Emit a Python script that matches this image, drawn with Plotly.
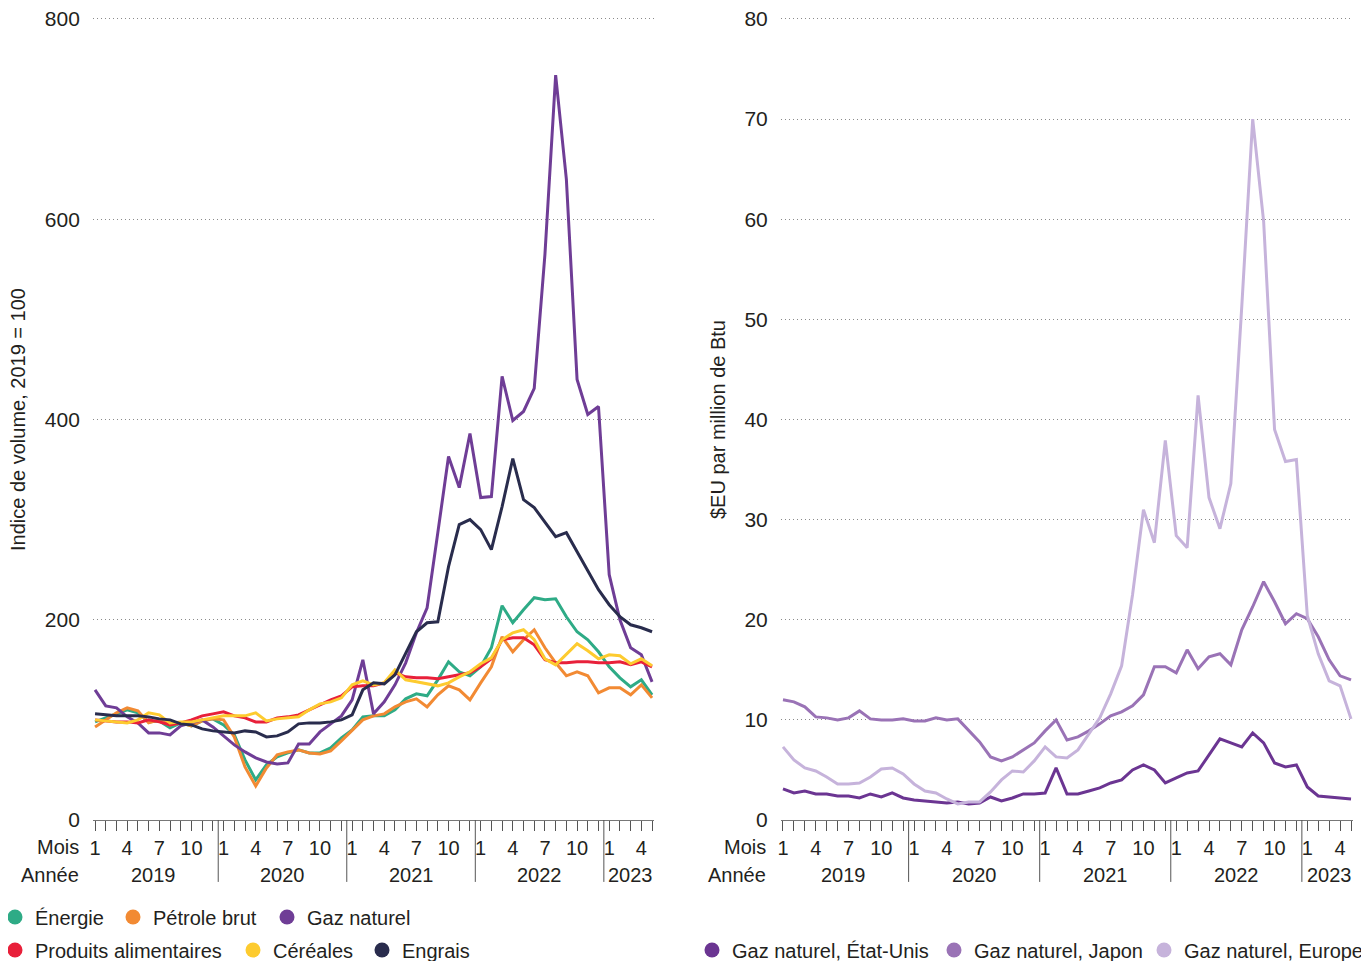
import plotly.graph_objects as go

# ---------------- data ----------------
months = [
    "2019-01", "2019-02", "2019-03", "2019-04", "2019-05", "2019-06", "2019-07", "2019-08", "2019-09", "2019-10", "2019-11", "2019-12",
    "2020-01", "2020-02", "2020-03", "2020-04", "2020-05", "2020-06", "2020-07", "2020-08", "2020-09", "2020-10", "2020-11", "2020-12",
    "2021-01", "2021-02", "2021-03", "2021-04", "2021-05", "2021-06", "2021-07", "2021-08", "2021-09", "2021-10", "2021-11", "2021-12",
    "2022-01", "2022-02", "2022-03", "2022-04", "2022-05", "2022-06", "2022-07", "2022-08", "2022-09", "2022-10", "2022-11", "2022-12",
    "2023-01", "2023-02", "2023-03", "2023-04", "2023-05",
]
labelled_months = {"01": "1", "04": "4", "07": "7", "10": "10"}
years = ["2019", "2020", "2021", "2022", "2023"]

energie = [98, 102, 106, 110, 107, 98, 99, 92, 97, 94, 99, 101,
           95, 85, 60, 40, 55, 63, 67, 70, 67, 67, 72, 82,
           90, 103, 104, 104, 110, 121, 126, 124, 140, 158, 148, 144,
           153, 172, 214, 197, 210, 222, 220, 221, 203, 188, 180, 168,
           153, 142, 133, 140, 125]
petrole = [93, 100, 107, 112, 109, 97, 100, 95, 97, 94, 99, 101,
           100, 83, 53, 34, 52, 65, 68, 70, 67, 66, 69, 79,
           89, 100, 104, 106, 113, 118, 121, 113, 125, 134, 130, 120,
           137, 153, 183, 168, 180, 190, 172, 157, 144, 148, 144, 127,
           132, 132, 125, 135, 122]
gaz = [130, 114, 112, 103, 97, 87, 87, 85, 94, 97, 100, 93,
       84, 75, 68, 62, 58, 56, 57, 76, 76, 88, 96, 104,
       120, 160, 106, 118, 135, 157, 187, 212, 287, 363, 332, 386,
       322, 323, 443, 399, 408, 431, 565, 744, 640, 440, 405, 413,
       245, 200, 172, 165, 138]
alimentaires = [100, 99, 98, 98, 97, 100, 98, 95, 97, 100, 104, 106,
                108, 104, 102, 98, 98, 102, 103, 105, 110, 115, 120, 124,
                133, 134, 134, 137, 147, 143, 142, 142, 141, 143, 145, 147,
                153, 161, 180, 182, 182, 175, 160, 157, 157, 158, 158, 157,
                157, 158, 155, 158, 153]
cereales = [100, 99, 98, 97, 100, 107, 105, 97, 98, 98, 100, 102,
            104, 104, 104, 107, 99, 101, 102, 103, 110, 116, 118, 122,
            135, 139, 135, 137, 150, 140, 138, 136, 134, 137, 143, 148,
            156, 162, 180, 187, 190, 180, 161, 155, 166, 176, 169, 161,
            165, 164, 156, 161, 154]
engrais = [106, 105, 104, 104, 104, 103, 101, 100, 96, 95, 91, 89,
           88, 87, 89, 88, 83, 84, 88, 96, 97, 97, 98, 100,
           105, 130, 137, 136, 145, 167, 188, 197, 198, 253, 295, 300,
           290, 270, 313, 361, 320, 312, 297, 283, 287, 268, 248, 230,
           215, 203, 195, 192, 188]

gaz_us = [3.1, 2.7, 2.9, 2.6, 2.6, 2.4, 2.4, 2.2, 2.6, 2.3, 2.7, 2.2,
          2.0, 1.9, 1.8, 1.7, 1.8, 1.6, 1.7, 2.3, 1.9, 2.2, 2.6, 2.6,
          2.7, 5.2, 2.6, 2.6, 2.9, 3.2, 3.7, 4.0, 5.0, 5.5, 5.0, 3.7,
          4.2, 4.7, 4.9, 6.5, 8.1, 7.7, 7.3, 8.7, 7.7, 5.7, 5.3, 5.5,
          3.3, 2.4, 2.3, 2.2, 2.1]
gaz_japon = [12.0, 11.8, 11.3, 10.3, 10.2, 10.0, 10.2, 10.9, 10.1, 10.0, 10.0, 10.1,
             9.9, 9.9, 10.2, 10.0, 10.1, 9.0, 7.8, 6.3, 5.9, 6.3, 7.0, 7.7,
             8.9, 10.0, 8.0, 8.3, 8.9, 9.6, 10.4, 10.8, 11.4, 12.5, 15.3, 15.3,
             14.7, 17.0, 15.1, 16.3, 16.6, 15.5, 19.0, 21.3, 23.8, 21.8, 19.6, 20.6,
             20.1, 18.3, 16.0, 14.4, 14.0]
gaz_europe = [7.3, 6.0, 5.2, 4.9, 4.3, 3.6, 3.6, 3.7, 4.3, 5.1, 5.2, 4.6,
              3.6, 2.9, 2.7, 2.1, 1.6, 1.8, 1.8, 2.8, 4.0, 4.9, 4.8, 5.9,
              7.3, 6.3, 6.2, 7.0, 8.6, 10.2, 12.6, 15.4, 22.5, 31.0, 27.7, 37.9,
              28.4, 27.2, 42.4, 32.2, 29.1, 33.6, 51.3, 70.0, 59.8, 39.0, 35.8, 36.0,
              20.4, 16.6, 13.9, 13.4, 10.1]

left_series = [
    ("Énergie", energie, "#2EAB86"),
    ("Pétrole brut", petrole, "#F28A33"),
    ("Gaz naturel", gaz, "#6F3D96"),
    ("Produits alimentaires", alimentaires, "#E8203A"),
    ("Céréales", cereales, "#FDCB2F"),
    ("Engrais", engrais, "#292C4D"),
]
right_series = [
    ("Gaz naturel, État-Unis", gaz_us, "#6B3592"),
    ("Gaz naturel, Japon", gaz_japon, "#9A73B6"),
    ("Gaz naturel, Europe", gaz_europe, "#C6B3DB"),
]

left_ticks = [0, 200, 400, 600, 800]
right_ticks = [0, 10, 20, 30, 40, 50, 60, 70, 80]

# ---------------- layout helpers (reference pixel -> figure coords) ----------------
FONT = "Liberation Sans, Arial, sans-serif"
TXT = "#231f20"
OFF = 8                      # page body margin
W, H = 1369 - OFF, 961 - OFF


def px(x):
    return (x - OFF) / W


def py(y):
    return 1 - (y - OFF) / H


# ranges run a little above the top tick so its gridline is kept (1.00125 px per unit)
Y_DOM = [py(820), py(820 - 803 * 1.00125)]
X1_DOM = [px(92.9), px(654.2)]
X2_DOM = [px(780.8), px(1353.2)]
XRANGE = [-0.2, 52.2]

# legend placement (circle centre in reference pixels)
legend_pos = {
    "Énergie": (17, 917), "Pétrole brut": (135, 917), "Gaz naturel": (289, 917),
    "Produits alimentaires": (17, 950), "Céréales": (255, 950), "Engrais": (384, 950),
    "Gaz naturel, État-Unis": (714, 950), "Gaz naturel, Japon": (956, 950),
    "Gaz naturel, Europe": (1166, 950),
}

fig = go.Figure()

for name, vals, col in left_series:
    fig.add_trace(go.Scatter(x=months, y=vals, mode="lines", name=name,
                             line=dict(color=col, width=3), showlegend=False,
                             xaxis="x", yaxis="y"))
for name, vals, col in right_series:
    fig.add_trace(go.Scatter(x=months, y=vals, mode="lines", name=name,
                             line=dict(color=col, width=3), showlegend=False,
                             xaxis="x2", yaxis="y2"))

legend_layouts = {}
all_series = [(n, c, "x", "y") for n, v, c in left_series] + \
             [(n, c, "x2", "y2") for n, v, c in right_series]
for i, (name, col, xa, ya) in enumerate(all_series):
    lid = "legend" if i == 0 else f"legend{i + 1}"
    fig.add_trace(go.Scatter(x=[None], y=[None], mode="markers", name=name,
                             marker=dict(size=15, color=col), legend=lid,
                             xaxis=xa, yaxis=ya))
    cx, cy = legend_pos[name]
    legend_layouts[lid] = dict(
        orientation="h", font=dict(size=20, color=TXT, family=FONT),
        bgcolor="rgba(0,0,0,0)", borderwidth=0, itemclick=False,
        x=px(cx - 22), y=py(cy), xanchor="left", yanchor="middle",
    )

ticktext = [labelled_months.get(m[5:], "") for m in months]


def xaxis_cfg(domain, anchor):
    return dict(
        type="category", categoryorder="array", categoryarray=months,
        domain=domain, anchor=anchor, range=XRANGE,
        tickmode="array", tickvals=months, ticktext=ticktext,
        ticks="outside", ticklen=10, tickwidth=1, tickcolor="#555",
        showline=True, linecolor="#777", linewidth=1,
        showgrid=False, zeroline=False,
        tickfont=dict(size=20, color=TXT, family=FONT), tickangle=0,
    )


def yaxis_cfg(anchor, rng, tickvals):
    return dict(
        domain=Y_DOM, anchor=anchor, range=rng,
        tickmode="array", tickvals=tickvals, ticktext=[str(v) for v in tickvals],
        showgrid=True, gridcolor="#8a8a8a", gridwidth=1, griddash="1px,3px",
        zeroline=False, showline=False, ticks="",
        ticklabelstandoff=12, ticklabeloverflow="allow",
        tickfont=dict(size=21, color=TXT, family=FONT),
    )


shapes = []
annotations = []
for xref, yref, xdom in (("x", "y", "x domain"), ("x2", "y2", "x2 domain")):
    ydom = yref + " domain"
    for yr in years:
        idx = [i for i, m in enumerate(months) if m.startswith(yr)]
        if idx[0] > 0:
            shapes.append(dict(type="line", xref=xref, yref=ydom,
                               x0=idx[0] - 0.5, x1=idx[0] - 0.5, y0=0, y1=-0.077,
                               line=dict(color="#555", width=1)))
        annotations.append(dict(text=yr, xref=xref, yref=ydom,
                                x=sum(idx) / len(idx), y=-0.0685, yanchor="middle",
                                showarrow=False,
                                font=dict(size=20, color=TXT, family=FONT)))
    annotations.append(dict(text="Mois", xref=xdom, yref=ydom, x=-0.022, xanchor="right",
                            y=-0.033, yanchor="middle", showarrow=False,
                            font=dict(size=20, color=TXT, family=FONT)))
    annotations.append(dict(text="Année", xref=xdom, yref=ydom, x=-0.022, xanchor="right",
                            y=-0.0685, yanchor="middle", showarrow=False,
                            font=dict(size=20, color=TXT, family=FONT)))

annotations.append(dict(text="Indice de volume, 2019 = 100", textangle=-90,
                        xref="paper", yref="paper", x=px(18), y=py(420),
                        xanchor="center", yanchor="middle", showarrow=False,
                        font=dict(size=20, color=TXT, family=FONT)))
annotations.append(dict(text="$EU par million de Btu", textangle=-90,
                        xref="paper", yref="paper", x=px(718), y=py(420),
                        xanchor="center", yanchor="middle", showarrow=False,
                        font=dict(size=20, color=TXT, family=FONT)))

fig.update_layout(
    width=W, height=H,
    margin=dict(l=0, r=0, t=0, b=0, autoexpand=False),
    paper_bgcolor="white", plot_bgcolor="white",
    font=dict(family=FONT, color=TXT, size=20),
    xaxis=xaxis_cfg(X1_DOM, "y"),
    yaxis=yaxis_cfg("x", [0, 803], left_ticks),
    xaxis2=xaxis_cfg(X2_DOM, "y2"),
    yaxis2=yaxis_cfg("x2", [0, 80.3], right_ticks),
    shapes=shapes,
    annotations=annotations,
    showlegend=True,
    hovermode=False,
    **legend_layouts,
)

fig.write_html("out.html")
